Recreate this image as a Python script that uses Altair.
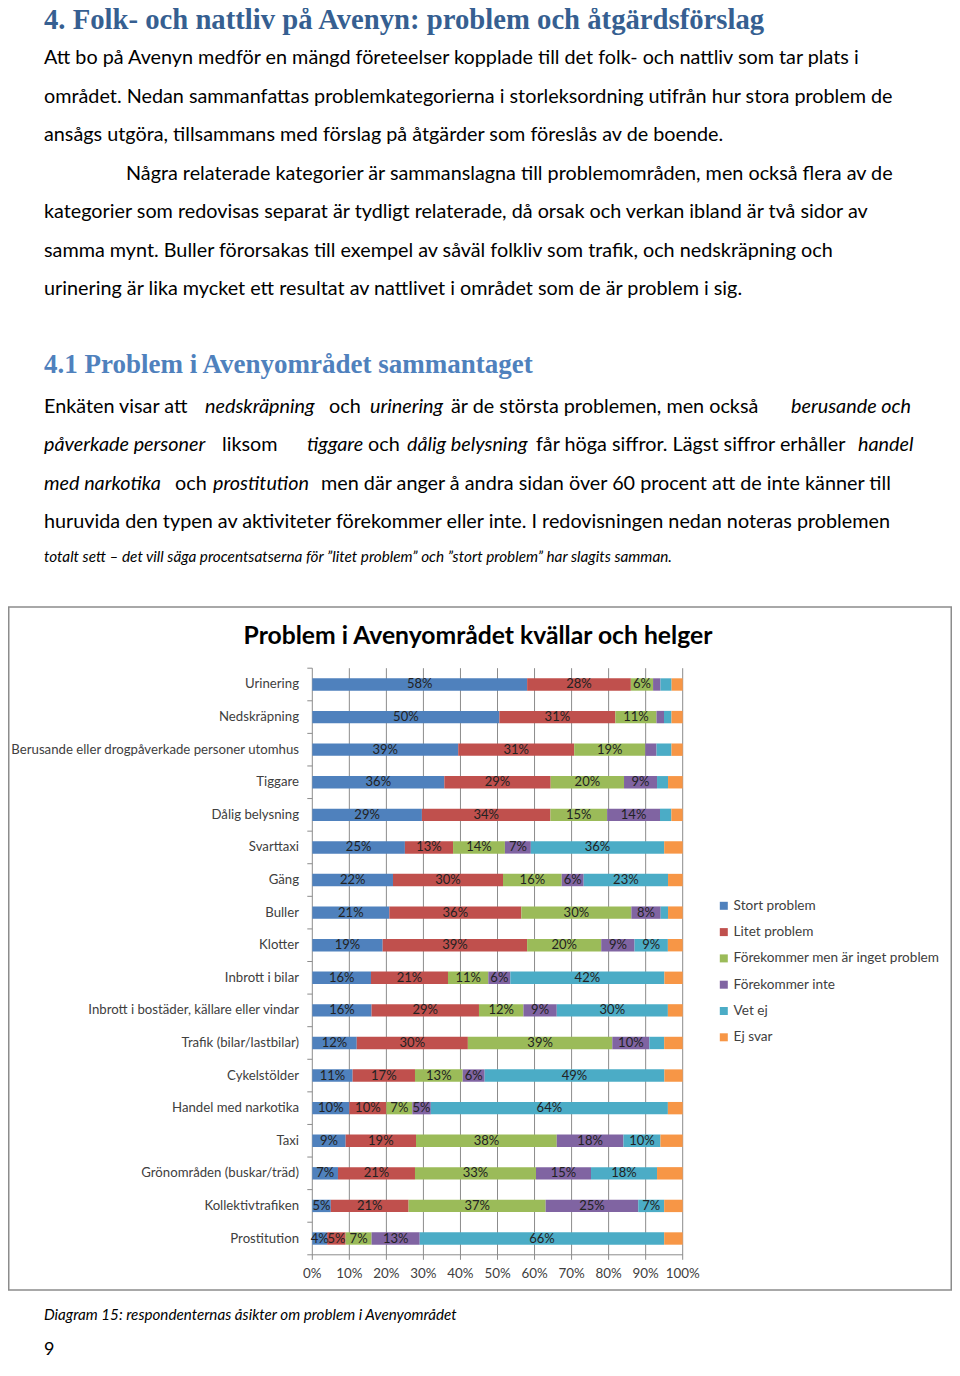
import altair as alt
import pandas as pd

# ---------------- data ----------------
categories = [
    "Urinering", "Nedskräpning", "Berusande eller drogpåverkade personer utomhus",
    "Tiggare", "Dålig belysning", "Svarttaxi", "Gäng", "Buller", "Klotter",
    "Inbrott i bilar", "Inbrott i bostäder, källare eller vindar",
    "Trafik (bilar/lastbilar)", "Cykelstölder", "Handel med narkotika", "Taxi",
    "Grönområden (buskar/träd)", "Kollektivtrafiken", "Prostitution",
]
series = ["Stort problem", "Litet problem", "Förekommer men är inget problem",
          "Förekommer inte", "Vet ej", "Ej svar"]
stort_problem = [58, 50, 39, 36, 29, 25, 22, 21, 19, 16, 16, 12, 11, 10, 9, 7, 5, 4]
litet_problem = [28, 31, 31, 29, 34, 13, 30, 36, 39, 21, 29, 30, 17, 10, 19, 21, 21, 5]
inget_problem = [6, 11, 19, 20, 15, 14, 16, 30, 20, 11, 12, 39, 13, 7, 38, 33, 37, 7]
forekommer_inte = [2, 2, 3, 9, 14, 7, 6, 8, 9, 6, 9, 10, 6, 5, 18, 15, 25, 13]
vet_ej = [3, 2, 4, 3, 3, 36, 23, 2, 9, 42, 30, 4, 49, 64, 10, 18, 7, 66]
ej_svar = [3, 3, 3, 4, 3, 5, 4, 4, 4, 5, 4, 5, 5, 4, 6, 7, 5, 5]
tick_values = [0, 10, 20, 30, 40, 50, 60, 70, 80, 90, 100]
colors = ["#4F81BD", "#C0504D", "#9BBB59", "#8064A2", "#4BACC6", "#F79646"]

chart_title = "Problem i Avenyområdet kvällar och helger"
heading1 = "4. Folk- och nattliv på Avenyn: problem och åtgärdsförslag"
heading2 = "4.1 Problem i Avenyområdet sammantaget"
para1 = [
    "Att bo på Avenyn medför en mängd företeelser kopplade till det folk- och nattliv som tar plats i",
    "området. Nedan sammanfattas problemkategorierna i storleksordning utifrån hur stora problem de",
    "ansågs utgöra, tillsammans med förslag på åtgärder som föreslås av de boende.",
    "Några relaterade kategorier är sammanslagna till problemområden, men också flera av de",
    "kategorier som redovisas separat är tydligt relaterade, då orsak och verkan ibland är två sidor av",
    "samma mynt. Buller förorsakas till exempel av såväl folkliv som trafik, och nedskräpning och",
    "urinering är lika mycket ett resultat av nattlivet i området som de är problem i sig.",
]
# (text, italic?) runs per line
para2 = [
    [("Enkäten visar att", False), ("nedskräpning", True), ("och", False), ("urinering", True),
     ("är de största problemen, men också", False), ("berusande och", True)],
    [("påverkade personer", True), ("liksom", False), ("tiggare", True), ("och", False),
     ("dålig belysning", True), ("får höga siffror. Lägst siffror erhåller", False), ("handel", True)],
    [("med narkotika", True), ("och", False), ("prostitution", True),
     ("men där anger å andra sidan över 60 procent att de inte känner till", False)],
    [("huruvida den typen av aktiviteter förekommer eller inte. I redovisningen nedan noteras problemen", False)],
]
note = "totalt sett – det vill säga procentsatserna för ”litet problem” och ”stort problem” har slagits samman."
caption = "Diagram 15: respondenternas åsikter om problem i Avenyområdet"
page_number = "9"

# ---------------- layout (page pixel coordinates) ----------------
OFF = 8
BODY = "Lato"
SERIF = "Liberation Serif"
BODY_SIZE = 19.8
para1_pos = [(44, 58), (44, 97), (44, 135), (126, 174), (44, 212), (44, 251), (44, 289)]
para2_x = [[44, 205, 329, 370, 451, 791], [44, 222, 307, 368, 407, 536, 858], [44, 175, 213, 321], [44]]
para2_y = [407, 445, 484, 522]

X0, X1 = 312.3 - OFF, 682.7 - OFF
Y0, Y1 = 668.2 - OFF, 1254.8 - OFF
STEP = (Y1 - Y0) / len(categories)
xscale = alt.Scale(domain=[0, 1], range=[X0, X1], nice=False)
yscale = alt.Scale(domain=categories, range=[Y0, Y1], paddingInner=0.62, paddingOuter=0.31)

rows = []
for si, (name, vals) in enumerate(zip(series, [stort_problem, litet_problem, inget_problem,
                                              forekommer_inte, vet_ej, ej_svar])):
    for c, v in zip(categories, vals):
        rows.append({"category": c, "series": name, "order": si, "value": v})
df = pd.DataFrame(rows)


def txt(s, x, y, size=BODY_SIZE, font=BODY, style="normal", weight="normal", color="#000000",
        align="left", baseline="middle"):
    return alt.Chart(pd.DataFrame({"t": [s]})).mark_text(
        x=x - OFF, y=y - OFF, align=align, baseline=baseline, font=font, fontSize=size,
        fontStyle=style, fontWeight=weight, color=color,
    ).encode(text="t:N")


layers = []
# page text
layers.append(txt(heading1, 44, 29, size=28.7, font=SERIF, weight="bold", color="#365F91",
                  baseline="alphabetic"))
for s, (x, y) in zip(para1, para1_pos):
    layers.append(txt(s, x, y))
layers.append(txt(heading2, 44, 373, size=27, font=SERIF, weight="bold", color="#4F81BD",
                  baseline="alphabetic"))
for line, xs, y in zip(para2, para2_x, para2_y):
    for (s, it), x in zip(line, xs):
        layers.append(txt(s, x, y, style="italic" if it else "normal"))
layers.append(txt(note, 44, 557, size=15.3, style="italic"))
layers.append(txt(caption, 44, 1315, size=15.2, style="italic"))
layers.append(txt(page_number, 44, 1355, size=18, baseline="alphabetic"))

# chart frame
frame = alt.Chart(pd.DataFrame({"a": [0]})).mark_rect(
    fillOpacity=0, stroke="#8c8c8c", strokeWidth=1.5
).encode(x=alt.value(0.75), x2=alt.value(943.25), y=alt.value(607 - OFF), y2=alt.value(1290 - OFF))
layers.append(frame)
layers.append(txt(chart_title, 478, 637, size=24.7, weight="bold", align="center"))

# gridlines + axes
ticks_df = pd.DataFrame({"tick": tick_values})
grid = alt.Chart(ticks_df).transform_calculate(t="datum.tick / 100").mark_rule(
    color="#8c8c8c", strokeWidth=1
).encode(x=alt.X("t:Q", scale=xscale, axis=None), y=alt.value(Y0), y2=alt.value(Y1 + 5))
tick_labels = alt.Chart(ticks_df).transform_calculate(
    t="datum.tick / 100", lab="datum.tick + '%'"
).mark_text(y=1274 - OFF, baseline="middle", align="center", font=BODY, fontSize=13.4, color="#404040").encode(
    x=alt.X("t:Q", scale=xscale, axis=None), text="lab:N")
axis_line = alt.Chart(pd.DataFrame({"a": [0]})).mark_rule(color="#8c8c8c", strokeWidth=1).encode(
    x=alt.value(X0 - 5), x2=alt.value(X1), y=alt.value(Y1))
cat_df = pd.DataFrame({"category": categories})
cat_ticks = alt.Chart(cat_df).mark_rule(color="#8c8c8c", strokeWidth=1, yOffset=-STEP / 2).encode(
    y=alt.Y("category:N", scale=yscale, axis=None), x=alt.value(X0 - 5), x2=alt.value(X0))
cat_labels = alt.Chart(cat_df).mark_text(
    x=299 - OFF, align="right", baseline="middle", font=BODY, fontSize=13.2, color="#404040"
).encode(y=alt.Y("category:N", scale=yscale, axis=None), text="category:N")
layers += [grid, axis_line, cat_ticks, cat_labels, tick_labels]

# stacked bars
base = alt.Chart(df).transform_stack(
    stack="value", groupby=["category"], as_=["v0", "v1"], offset="normalize",
    sort=[alt.SortField("order", order="ascending")],
)
bars = base.mark_bar().encode(
    x=alt.X("v0:Q", scale=xscale, axis=None),
    x2="v1:Q",
    y=alt.Y("category:N", scale=yscale, axis=None),
    color=alt.Color("series:N", scale=alt.Scale(domain=series, range=colors),
                    legend=alt.Legend(title=None, orient="none", legendX=717 - OFF, legendY=899 - OFF,
                                      direction="vertical", symbolType="square", symbolSize=64,
                                      symbolStrokeWidth=0, labelFont=BODY, labelFontSize=13.6,
                                      labelColor="#404040", rowPadding=11.3, labelOffset=3,
                                      labelLimit=400, padding=0)),
)
value_labels = base.transform_filter(
    "(datum.value >= 5 && datum.series != 'Ej svar') || (datum.value >= 4 && datum.series == 'Stort problem')"
).transform_calculate(
    mid="(datum.v0 + datum.v1) / 2", label="datum.value + '%'"
).mark_text(font=BODY, fontSize=13, color="#222222", baseline="middle", align="center").encode(
    x=alt.X("mid:Q", scale=xscale, axis=None),
    y=alt.Y("category:N", scale=yscale, axis=None),
    text="label:N",
)
layers += [bars, value_labels]

chart = alt.layer(*layers).properties(
    width=944, height=1352, autosize=alt.AutoSizeParams(type="none"), padding=0, background="white"
).configure_view(stroke=None)

chart.save("out.html", embed_options={"renderer": "svg", "actions": False})
